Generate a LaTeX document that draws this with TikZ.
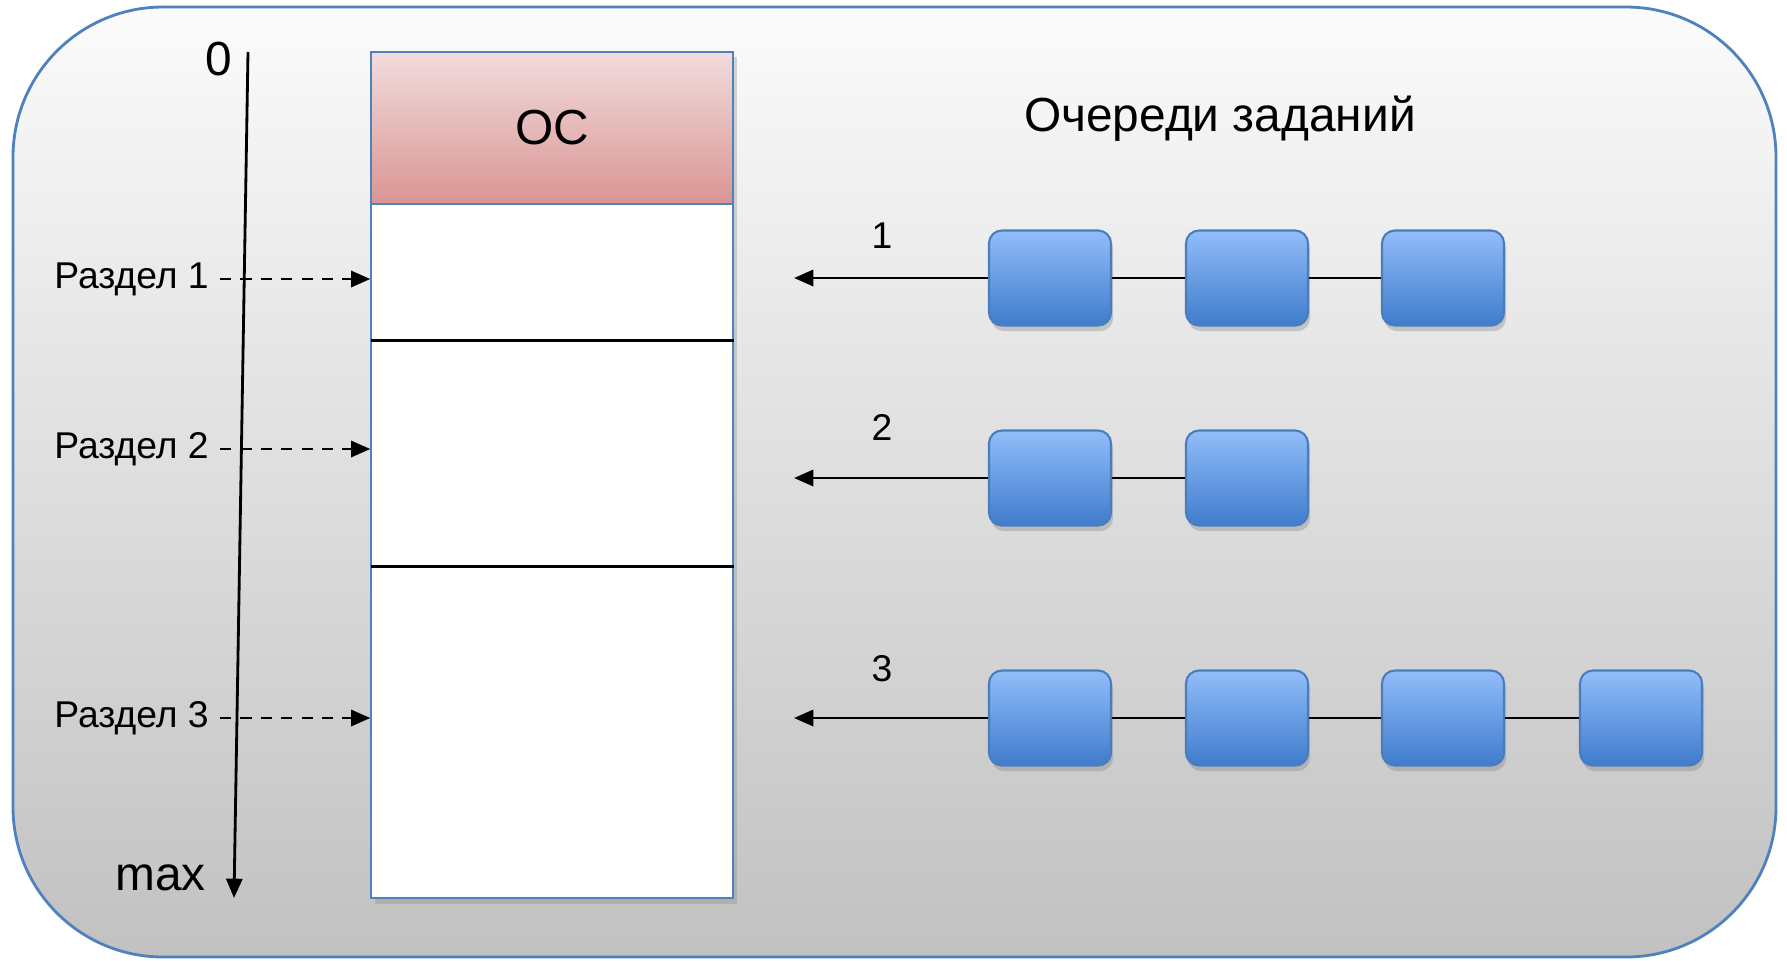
\documentclass[tikz,border=0pt]{standalone}
\usepackage{fontspec}
\setmainfont{Liberation Sans}
\usetikzlibrary{shadows,arrows.meta}
\definecolor{frameblue}{HTML}{4F81BD}
\definecolor{bgtop}{HTML}{FBFBFB}
\definecolor{bgbot}{HTML}{C1C1C1}
\definecolor{boxtop}{HTML}{92BDFA}
\definecolor{boxbot}{HTML}{3F7CCC}
\definecolor{boxline}{HTML}{4A7DBD}
\definecolor{ostop}{HTML}{F2DCDC}
\definecolor{osbot}{HTML}{D99594}
\tikzset{
  job/.style={draw=boxline, line width=0.6pt, rounded corners=0.13cm,
    top color=boxtop, bottom color=boxbot, minimum width=1.22cm, minimum height=0.95cm,
    drop shadow={opacity=0.35, shadow xshift=0.6pt, shadow yshift=-1.6pt}},
  memcol/.style={draw=frameblue, line width=0.6pt, fill=white,
    drop shadow={opacity=0.3, shadow xshift=1pt, shadow yshift=-1.5pt}},
  cell/.style={inner sep=0pt, minimum width=3.615cm},
  divider/.style={black, line width=0.9pt},
  ptr/.style={black, line width=0.8pt, dash pattern=on 3.2pt off 2.6pt, -{Triangle[length=5.5pt,width=4.6pt]}},
  qarrow/.style={black, line width=0.8pt, -{Triangle[length=5.5pt,width=4.6pt]}},
  qlink/.style={black, line width=0.8pt},
  seclabel/.style={font=\fontsize{10.6}{12}\selectfont, anchor=east, inner sep=1pt},
  qnum/.style={font=\fontsize{10.6}{12}\selectfont},
  big/.style={font=\fontsize{13.6}{16}\selectfont}
}
\begin{document}
\begin{tikzpicture}[x=0.01cm,y=-0.01cm]
\useasboundingbox (0,0) rectangle (1787,960);
% frame
\path[draw=frameblue, line width=0.8pt, rounded corners=1.5cm, top color=bgtop, bottom color=bgbot]
  (13,7) rectangle (1776,957);

% memory column
\node[memcol, cell, minimum height=8.46cm] (mem) at (552.25,475) {};
\node[draw=frameblue, line width=0.6pt, cell, minimum height=1.52cm, top color=ostop, bottom color=osbot,
  font=\fontsize{14}{16}\selectfont] (os) at (552.25,128) {OC};
\node[cell, minimum height=1.36cm] (s1) at (552.25,272) {};
\node[cell, minimum height=2.26cm] (s2) at (552.25,453) {};
\node[cell, minimum height=3.32cm] (s3) at (552.25,732) {};
\draw[divider] (s1.south west) -- (s1.south east);
\draw[divider] (s2.south west) -- (s2.south east);

% axis
\node[big, anchor=east, inner sep=1pt] (zero) at (236,59) {0};
\node[big, anchor=east, inner sep=1pt] (maxl) at (210,878) {max};
\coordinate (axtop) at (248,52);
\coordinate (axbot) at (234,898);
\draw[qarrow] (axtop) -- (axbot);

% section labels
\node[seclabel] (l1) at (213,279) {Раздел 1};
\node[seclabel] (l2) at (213,449) {Раздел 2};
\node[seclabel] (l3) at (213,718) {Раздел 3};
\draw[ptr] ([xshift=2pt]l1.east) -- (l1.east -| mem.west);
\draw[ptr] ([xshift=2pt]l2.east) -- (l2.east -| mem.west);
\draw[ptr] ([xshift=2pt]l3.east) -- (l3.east -| mem.west);

% title
\node[big] (title) at (1220,119) {Очереди заданий};

% queue 1
\node[job] (a1) at (1050,278) {};
\node[job] (a2) at (1247,278) {};
\node[job] (a3) at (1443,278) {};
\coordinate (e1) at (794,278);
\draw[qlink] (a1.east) -- (a2.west);
\draw[qlink] (a2.east) -- (a3.west);
\draw[qarrow] (a1.west) -- (e1);
\node[qnum] (n1) at (882,236) {1};

% queue 2
\node[job] (b1) at (1050,478) {};
\node[job] (b2) at (1247,478) {};
\coordinate (e2) at (794,478);
\draw[qlink] (b1.east) -- (b2.west);
\draw[qarrow] (b1.west) -- (e2);
\node[qnum] (n2) at (882,427) {2};

% queue 3
\node[job] (c1) at (1050,718) {};
\node[job] (c2) at (1247,718) {};
\node[job] (c3) at (1443,718) {};
\node[job] (c4) at (1641,718) {};
\coordinate (e3) at (794,718);
\draw[qlink] (c1.east) -- (c2.west);
\draw[qlink] (c2.east) -- (c3.west);
\draw[qlink] (c3.east) -- (c4.west);
\draw[qarrow] (c1.west) -- (e3);
\node[qnum] (n3) at (882,669) {3};
\end{tikzpicture}
\end{document}
